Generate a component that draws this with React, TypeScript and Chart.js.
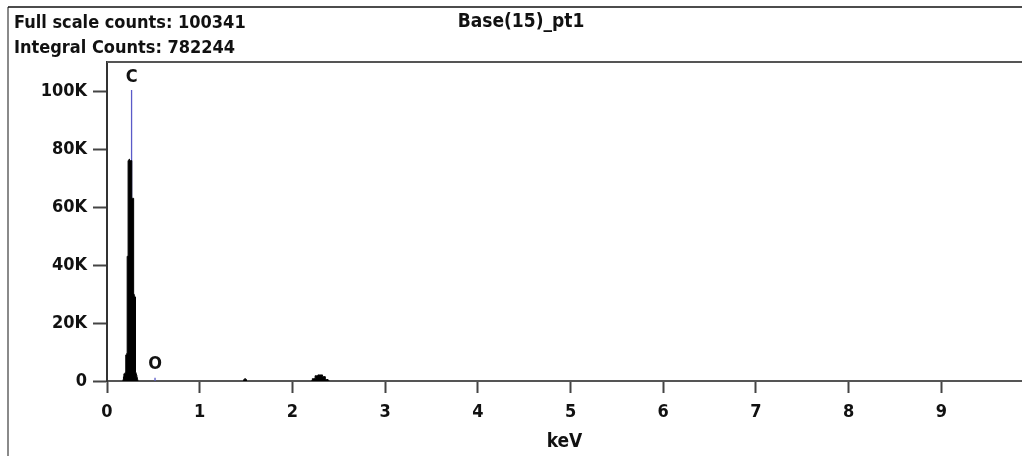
import React, { useEffect, useRef } from 'react';
import { Chart, registerables } from 'chart.js';

Chart.register(...registerables);

// ---- text ----
const HEADER_LINES = ['Full scale counts: 100341', 'Integral Counts: 782244'];
const SAMPLE_TITLE = 'Base(15)_pt1';
const X_TITLE = 'keV';

// ---- axes ----
const X_MIN = 0;
const X_MAX = 9.87;
const X_TICKS = [0, 1, 2, 3, 4, 5, 6, 7, 8, 9];
const Y_MAX = 110000;
const Y_TICKS = [0, 20000, 40000, 60000, 80000, 100000];
const Y_TICK_LABELS = ['0', '20K', '40K', '60K', '80K', '100K'];

// ---- spectrum (keV, counts) ----
const C_KEV = [
  0.17, 0.175, 0.18, 0.185, 0.19, 0.195, 0.2, 0.205, 0.21, 0.215, 0.22, 0.225, 0.23, 0.235, 0.24, 0.245, 0.25,
  0.255, 0.26, 0.265, 0.27, 0.275, 0.28, 0.285, 0.29, 0.295, 0.3, 0.305, 0.31, 0.315, 0.32, 0.325, 0.33, 0.335,
];
const C_COUNTS = [
  0, 500, 1500, 2500, 2500, 2700, 3000, 9000, 9000, 9500, 43000, 43000, 76000, 76000, 76500, 76000, 76000,
  76000, 76000, 76000, 63000, 63000, 63000, 63000, 30000, 29500, 29000, 29000, 3000, 2500, 2000, 1200, 500, 0,
];
const AL_KEV = [1.47, 1.48, 1.49, 1.5, 1.51];
const AL_COUNTS = [0, 500, 800, 500, 0];
const S_KEV = [2.2, 2.23, 2.26, 2.29, 2.31, 2.34, 2.37, 2.4];
const S_COUNTS = [0, 800, 1800, 2100, 2100, 1500, 500, 0];

// ---- peak markers ----
const PEAK_NAMES = ['C', 'O'];
const PEAK_KEV = [0.265, 0.518];
const PEAK_HEIGHTS = [100341, 1100];

const FONT_FAMILY = '"DejaVu Sans Condensed", "DejaVu Sans", sans-serif';

function buildSpectrum() {
  const segs = [
    [C_KEV, C_COUNTS],
    [AL_KEV, AL_COUNTS],
    [S_KEV, S_COUNTS],
  ];
  const out: { x: number; y: number | null }[] = [];
  segs.forEach(([xs, ys], i) => {
    xs.forEach((x, j) => out.push({ x, y: ys[j] }));
    if (i < segs.length - 1) out.push({ x: xs[xs.length - 1] + 0.001, y: null });
  });
  return out;
}

function buildMarkers() {
  const out: { x: number; y: number | null }[] = [];
  PEAK_KEV.forEach((k, i) => {
    out.push({ x: k, y: 0 });
    out.push({ x: k, y: PEAK_HEIGHTS[i] });
    out.push({ x: k + 0.0001, y: null });
  });
  return out;
}

const decorPlugin = {
  id: 'decor',
  afterDraw(chart: any) {
    const { ctx, chartArea, scales } = chart;
    ctx.save();
    // outer frame
    ctx.strokeStyle = '#8a8a8a';
    ctx.lineWidth = 2;
    ctx.beginPath();
    ctx.moveTo(8, 7);
    ctx.lineTo(8, 456);
    ctx.stroke();
    ctx.strokeStyle = '#111';
    ctx.lineWidth = 1.5;
    ctx.beginPath();
    ctx.moveTo(8, 7);
    ctx.lineTo(1022, 7);
    ctx.stroke();
    // plot frame top
    ctx.strokeStyle = '#555';
    ctx.lineWidth = 2;
    ctx.beginPath();
    ctx.moveTo(chartArea.left, chartArea.top);
    ctx.lineTo(chartArea.right, chartArea.top);
    ctx.stroke();
    // headers
    ctx.fillStyle = '#111';
    ctx.font = `bold 18px ${FONT_FAMILY}`;
    ctx.textAlign = 'left';
    ctx.textBaseline = 'alphabetic';
    ctx.fillText(HEADER_LINES[0], 14, 28);
    ctx.fillText(HEADER_LINES[1], 14, 53);
    ctx.textAlign = 'center';
    ctx.font = `bold 19px ${FONT_FAMILY}`;
    ctx.fillText(SAMPLE_TITLE, 521, 27);
    // peak labels
    ctx.font = `bold 18px ${FONT_FAMILY}`;
    ctx.textBaseline = 'bottom';
    PEAK_NAMES.forEach((name, i) => {
      const px = scales.x.getPixelForValue(PEAK_KEV[i]);
      const py = scales.y.getPixelForValue(PEAK_HEIGHTS[i]);
      ctx.fillText(name, px, py - 4);
    });
    ctx.restore();
  },
};

export default function App() {
  const ref = useRef<HTMLCanvasElement>(null);
  useEffect(() => {
    if (!ref.current) return;
    const chart = new Chart(ref.current, {
      type: 'line',
      data: {
        datasets: [
          {
            data: buildSpectrum() as any,
            borderColor: '#000',
            backgroundColor: '#000',
            borderWidth: 1,
            pointRadius: 0,
            spanGaps: false,
            fill: 'origin',
            stepped: 'middle',
          },
          {
            data: buildMarkers() as any,
            borderColor: '#5a5ac8',
            borderWidth: 1.3,
            pointRadius: 0,
            spanGaps: false,
            fill: false,
          },
        ],
      },
      plugins: [decorPlugin],
      options: {
        responsive: false,
        animation: false,
        devicePixelRatio: 1,
        parsing: false,
        layout: { padding: { top: 62, left: 0, right: 0, bottom: 0 } },
        plugins: { legend: { display: false }, tooltip: { enabled: false } },
        scales: {
          x: {
            type: 'linear',
            min: X_MIN,
            max: X_MAX,
            afterBuildTicks: (s: any) => {
              s.ticks = X_TICKS.map((v) => ({ value: v }));
            },
            afterFit: (s: any) => {
              s.height = 75;
            },
            grid: { drawOnChartArea: false, drawTicks: true, tickLength: 12, tickColor: '#444', tickWidth: 2 },
            border: { display: true, color: '#555', width: 2 },
            ticks: {
              color: '#111',
              font: { family: FONT_FAMILY, size: 18, weight: 'bold' },
              padding: 9,
              maxRotation: 0,
              autoSkip: false,
            },
            title: {
              display: true,
              text: X_TITLE,
              color: '#111',
              font: { family: FONT_FAMILY, size: 19, weight: 'bold' },
              padding: { top: 4, bottom: 3 },
            },
          },
          y: {
            type: 'linear',
            min: 0,
            max: Y_MAX,
            afterBuildTicks: (s: any) => {
              s.ticks = Y_TICKS.map((v) => ({ value: v }));
            },
            afterFit: (s: any) => {
              s.width = 107;
            },
            grid: { drawOnChartArea: false, drawTicks: true, tickLength: 14, tickColor: '#444', tickWidth: 2 },
            border: { display: true, color: '#333', width: 2 },
            ticks: {
              color: '#111',
              font: { family: FONT_FAMILY, size: 18, weight: 'bold' },
              padding: 6,
              autoSkip: false,
              callback: (v: any) => {
                const i = Y_TICKS.indexOf(Number(v));
                return i >= 0 ? Y_TICK_LABELS[i] : '';
              },
            },
          },
        },
      } as any,
    });
    return () => chart.destroy();
  }, []);
  return (
    <div style={{ position: 'absolute', left: 0, top: 0, width: 1022, height: 456, overflow: 'hidden', background: '#fff' }}>
      <canvas ref={ref} width={1022} height={456} style={{ width: 1022, height: 456, display: 'block' }} />
    </div>
  );
}
